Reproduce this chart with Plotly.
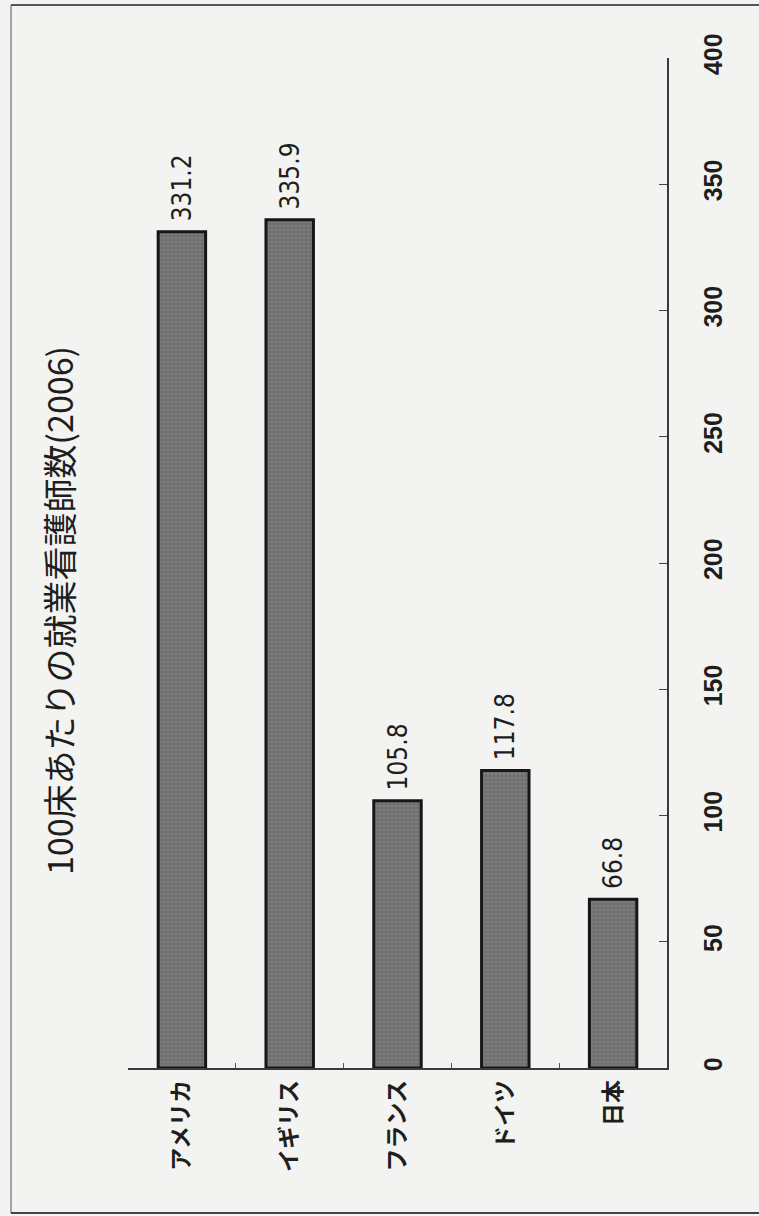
import plotly.graph_objects as go

# Registered nurses per 100 hospital beds, 2006
countries = ["アメリカ", "イギリス", "フランス", "ドイツ", "日本"]
nurses_per_100_beds = [331.2, 335.9, 105.8, 117.8, 66.8]
value_ticks = [0, 50, 100, 150, 200, 250, 300, 350, 400]
title_text = "100床あたりの就業看護師数(2006)"

W, H = 759, 1216
# plot area in pixels
L, R, T, B = 128, 667, 58, 1068
pw, ph = R - L, B - T


def px_x(x):
    return (x - L) / pw


def px_y(y):
    return (B - y) / ph


ink = "#1e1e1e"
jp_font = "Noto Sans CJK JP"
num_font = "Liberation Sans Narrow, DejaVu Sans Condensed, Arial Narrow, sans-serif"

# a non-breaking space keeps a small gap between bar end and its label
bar_labels = ["\u00a0" + f"{v:.1f}" for v in nurses_per_100_beds]

fig = go.Figure(
    go.Bar(
        x=countries,
        y=nurses_per_100_beds,
        marker=dict(
            color="#6f6f6f",
            line=dict(color="#161616", width=3),
            pattern=dict(shape=".", fgcolor="#5a5a5a", bgcolor="#7a7a7a",
                         size=4, solidity=0.35),
        ),
        text=bar_labels,
        textposition="outside",
        textangle=-90,
        constraintext="none",
        textfont=dict(family=num_font, size=26, color=ink),
        cliponaxis=False,
        hoverinfo="skip",
    )
)

fig.update_layout(
    width=W,
    height=H,
    autosize=False,
    margin=dict(l=L, r=W - R, t=T, b=H - B),
    paper_bgcolor="#f3f3f1",
    plot_bgcolor="#f3f3f1",
    showlegend=False,
    bargap=0.56,
    xaxis=dict(
        type="category",
        showline=True,
        linecolor="#3a3a3a",
        linewidth=1.5,
        ticks="inside",
        tickson="boundaries",
        ticklen=5,
        tickcolor="#555555",
        tickangle=-90,
        tickfont=dict(family=jp_font, size=23, color=ink, weight="bold"),
        ticklabelstandoff=1,
        showgrid=False,
        zeroline=False,
        fixedrange=True,
    ),
    yaxis=dict(
        side="right",
        range=[0, 400],
        tickvals=value_ticks,
        showline=True,
        linecolor="#3a3a3a",
        linewidth=1.5,
        ticks="inside",
        ticklen=8,
        tickcolor="#444444",
        tickangle=-90,
        tickfont=dict(family="Liberation Sans, Arial, sans-serif", size=25,
                      color=ink, weight="bold"),
        ticklabelstandoff=23,
        showgrid=False,
        zeroline=False,
        fixedrange=True,
    ),
    annotations=[
        dict(
            text=title_text,
            xref="paper", yref="paper",
            x=px_x(58), y=px_y(611),
            xanchor="center", yanchor="middle",
            textangle=-90,
            showarrow=False,
            font=dict(family=jp_font, size=34, color=ink),
        )
    ],
    shapes=[
        # outer frame of the chart
        dict(type="line", xref="paper", yref="paper",
             x0=px_x(11), x1=px_x(11), y0=px_y(5), y1=px_y(1213),
             line=dict(color="#8a8a8a", width=1.5)),
        dict(type="line", xref="paper", yref="paper",
             x0=px_x(11), x1=px_x(759), y0=px_y(5), y1=px_y(5),
             line=dict(color="#555555", width=2)),
        dict(type="line", xref="paper", yref="paper",
             x0=px_x(11), x1=px_x(759), y0=px_y(1213), y1=px_y(1213),
             line=dict(color="#444444", width=2)),
    ],
)

fig.write_html("out.html")
